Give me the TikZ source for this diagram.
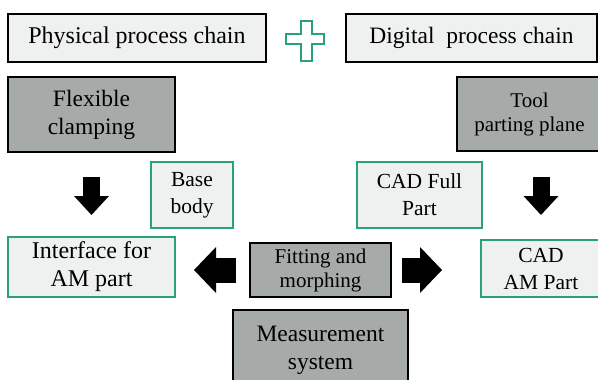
\documentclass[tikz,border=0pt]{standalone}
\usepackage{fontspec}
\setmainfont{LiberationSerif}[Extension=.ttf,UprightFont=*-Regular,BoldFont=*-Bold]
\usetikzlibrary{arrows.meta,calc}

\definecolor{boxlight}{RGB}{239,240,240}
\definecolor{boxdark}{RGB}{166,171,170}
\definecolor{chaingreen}{RGB}{40,163,118}

\begin{document}
\begin{tikzpicture}
    [x=1pt,y=-1pt,
      box/.style={rectangle,line width=1.8pt,align=center,inner sep=0pt,font=\rmfamily\fontsize{23.5}{28}\selectfont},
      chainbox/.style={box,draw=black,fill=boxlight},
      stepbox/.style={box,draw=black,fill=boxdark},
      partbox/.style={box,draw=chaingreen,fill=boxlight,line width=2pt,font=\rmfamily\fontsize{21.5}{27}\selectfont},
      small/.style={font=\rmfamily\fontsize{21}{24}\selectfont},
      bigdown/.style={line width=17pt,-{Triangle[width=35pt,length=19pt,line width=0pt]}},
      bigside/.style={line width=25pt,-{Triangle[width=46pt,length=22pt,line width=0pt]}}
    ]

    \clip (0,0) rectangle (598,380);
    \fill[white] (0,0) rectangle (598,380);

    \node [chainbox,font=\rmfamily\fontsize{24}{28}\selectfont,minimum width=258,minimum height=48] (phys) at (137,38) {Physical process chain};
    \node [chainbox,minimum width=251,minimum height=48] (dig) at (471.5,38) {Digital\ \ process chain};
    \draw [chaingreen,line width=2.4pt]
          (301,21) -- (312,21) -- (312,34) -- (324,34) -- (324,44) -- (312,44)
          -- (312,61) -- (301,61) -- (301,44) -- (286,44) -- (286,34) -- (301,34) -- cycle;

    \node [stepbox,minimum width=167,minimum height=75] (flex) at (91.5,114.5) {Flexible\\clamping};
    \node [stepbox,small,minimum width=145,minimum height=74] (tool) at (529.5,114) {Tool\\parting plane};

    \node [partbox,minimum width=82,minimum height=66] (base) at (192,195) {Base\\body};
    \node [partbox,minimum width=125,minimum height=66] (cadfull) at (419.5,195) {CAD Full\\Part};

    \node [partbox,font=\rmfamily\fontsize{24}{28}\selectfont,minimum width=167,minimum height=60] (iface) at (91.5,267) {Interface for\\AM part};
    \node [stepbox,small,minimum width=141,minimum height=54] (fit) at (320.5,270) {Fitting and\\morphing};
    \node [partbox,minimum width=120,minimum height=57] (cadam) at (541,268.5) {CAD\\AM Part};
    \node [stepbox,minimum width=175,minimum height=80] (meas) at (320.5,350) {Measurement\\system};

    \draw [bigdown] ($(flex.south)+(0,24)$) -- ($(iface.north)+(0,-21)$);
    \draw [bigdown] ($(tool.south -| cadam.north)+(0,25)$) -- ($(cadam.north)+(0,-24)$);
    \draw [bigside] ($(fit.west)+(-13,0)$) -- ($(fit.west -| iface.east)+(18,0)$);
    \draw [bigside] ($(fit.east)+(10,0)$) -- ($(fit.east -| cadam.west)+(-38,0)$);
  \end{tikzpicture}
\end{document}
